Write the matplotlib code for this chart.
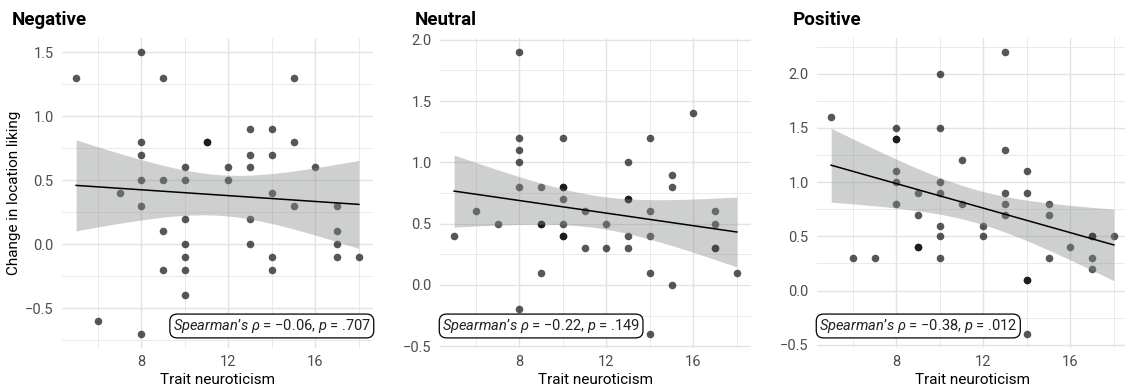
import numpy as np
import matplotlib
matplotlib.use("Agg")
import matplotlib.pyplot as plt
from matplotlib.ticker import FixedLocator, FuncFormatter

# trait neuroticism per participant (same people in each condition)
neuroticism = [5, 6, 7,
               8, 8, 8, 8, 8, 8,
               9, 9, 9, 9,
               10, 10, 10, 10, 10, 10, 10,
               11, 11,
               12, 12,
               13, 13, 13, 13, 13,
               14, 14, 14, 14, 14,
               15, 15, 15,
               16,
               17, 17, 17, 17,
               18]

# change in location liking per condition
liking_negative = [1.3, -0.6, 0.4,
                   1.5, 0.8, 0.7, 0.5, 0.3, -0.7,
                   1.3, 0.5, 0.1, -0.2,
                   0.6, 0.5, 0.2, 0.0, -0.1, -0.2, -0.4,
                   0.8, 0.8,
                   0.6, 0.5,
                   0.9, 0.7, 0.6, 0.2, 0.0,
                   0.9, 0.7, 0.4, -0.1, -0.2,
                   1.3, 0.8, 0.3,
                   0.6,
                   0.3, 0.1, 0.0, -0.1,
                   -0.1]

liking_neutral = [0.4, 0.6, 0.5,
                  1.9, 1.2, 1.1, 1.0, 0.8, -0.2,
                  0.8, 0.5, 0.5, 0.1,
                  1.2, 0.8, 0.8, 0.7, 0.5, 0.4, 0.4,
                  0.6, 0.3,
                  0.5, 0.3,
                  1.0, 0.7, 0.7, 0.4, 0.3,
                  1.2, 0.6, 0.4, 0.1, -0.4,
                  0.9, 0.8, 0.0,
                  1.4,
                  0.6, 0.5, 0.3, 0.3,
                  0.1]

liking_positive = [1.6, 0.3, 0.3,
                   1.5, 1.4, 1.4, 1.1, 1.0, 0.8,
                   0.9, 0.7, 0.4, 0.4,
                   2.0, 1.5, 1.0, 0.9, 0.6, 0.5, 0.3,
                   1.2, 0.8,
                   0.6, 0.5,
                   2.2, 1.3, 0.9, 0.8, 0.7,
                   1.1, 0.9, 0.1, 0.1, -0.4,
                   0.8, 0.7, 0.3,
                   0.4,
                   0.5, 0.5, 0.3, 0.2,
                   0.5]

conditions = ["Negative", "Neutral", "Positive"]
spearman_rho = ["\u22120.06", "\u22120.22", "\u22120.38"]
spearman_p = [".707", ".149", ".012"]
y_ticks = [[-0.5, 0.0, 0.5, 1.0, 1.5],
           [-0.5, 0.0, 0.5, 1.0, 1.5, 2.0],
           [-0.5, 0.0, 0.5, 1.0, 1.5, 2.0]]
x_ticks = [8, 12, 16]

T_CRIT = 2.02  # two-sided 95% t quantile, n - 2 = 41 df

plt.rcParams["font.family"] = ["Roboto", "DejaVu Sans"]
plt.rcParams["mathtext.fontset"] = "custom"
plt.rcParams["mathtext.rm"] = "Roboto"
plt.rcParams["mathtext.it"] = "Roboto:italic"
plt.rcParams["axes.unicode_minus"] = True


def lm_fit(x, y, grid):
    x = np.asarray(x, float)
    y = np.asarray(y, float)
    n = len(x)
    slope, intercept = np.polyfit(x, y, 1)
    resid = y - (intercept + slope * x)
    s = np.sqrt(np.sum(resid ** 2) / (n - 2))
    sxx = np.sum((x - x.mean()) ** 2)
    fit = intercept + slope * grid
    se = s * np.sqrt(1.0 / n + (grid - x.mean()) ** 2 / sxx)
    return fit, fit - T_CRIT * se, fit + T_CRIT * se


def minus_fmt(v, pos):
    return ("%.1f" % v).replace("-", "\u2212")


W, H = 1125, 390
fig = plt.figure(figsize=(W / 100, H / 100), dpi=100)

panel_left = [62, 440, 817]
panel_w = 311
panel_top, panel_bottom = 38, 348
title_x = [12, 415, 793]

series = [liking_negative, liking_neutral, liking_positive]

for i, name in enumerate(conditions):
    ax = fig.add_axes([panel_left[i] / W, (H - panel_bottom) / H,
                       panel_w / W, (panel_bottom - panel_top) / H])
    x = np.asarray(neuroticism, float)
    y = np.asarray(series[i], float)

    ax.scatter(x, y, s=30, color="black", alpha=0.66, linewidths=0, zorder=3)

    grid = np.linspace(x.min(), x.max(), 80)
    fit, lo, hi = lm_fit(x, y, grid)
    ax.fill_between(grid, lo, hi, color="#868a88", alpha=0.4, linewidth=0, zorder=4)
    ax.plot(grid, fit, color="black", lw=1.1, zorder=5)

    # ggplot-style 5% expansion
    xr = x.max() - x.min()
    ax.set_xlim(x.min() - 0.05 * xr, x.max() + 0.05 * xr)
    ymin = min(y.min(), lo.min())
    ymax = max(y.max(), hi.max())
    yr = ymax - ymin
    ax.set_ylim(ymin - 0.05 * yr, ymax + 0.05 * yr)

    ax.xaxis.set_major_locator(FixedLocator(x_ticks))
    ax.xaxis.set_minor_locator(FixedLocator([4, 6, 10, 14, 18]))
    ax.yaxis.set_major_locator(FixedLocator(y_ticks[i]))
    yt = y_ticks[i]
    ax.yaxis.set_minor_locator(FixedLocator(
        [v + 0.25 for v in [yt[0] - 0.5] + yt]))
    ax.yaxis.set_major_formatter(FuncFormatter(minus_fmt))

    ax.grid(which="major", color="#e3e3e3", lw=1.0)
    ax.grid(which="minor", color="#e6e6e6", lw=0.6)
    ax.set_axisbelow(True)
    for sp in ax.spines.values():
        sp.set_visible(False)
    ax.tick_params(which="both", length=0)
    ax.tick_params(axis="x", pad=5, labelsize=10.5, labelcolor="#4d4d4d")
    ax.tick_params(axis="y", pad=6, labelsize=10.5, labelcolor="#4d4d4d")
    ax.set_xlabel("Trait neuroticism", fontsize=11, labelpad=3)
    if i == 0:
        ax.set_ylabel("Change in location liking", fontsize=11, labelpad=3)

    label = ("$\\mathit{Spearman’s}$ $\\mathit{ρ}$ = "
             + spearman_rho[i] + ", $\\mathit{p}$ = " + spearman_p[i])
    if i == 0:
        tx, ha = 0.993, "right"
    else:
        tx, ha = 0.007, "left"
    ax.text(tx, 0.071, label, transform=ax.transAxes, ha=ha, va="center",
            fontsize=10.5, color="#222222", zorder=6,
            bbox=dict(boxstyle="round,pad=0.2,rounding_size=0.5",
                      fc="white", ec="black", lw=0.9))

    fig.text(title_x[i] / W, 1 - 20 / H, name, fontsize=13.5,
             fontweight="bold", ha="left", va="center")

fig.savefig("out.png", dpi=100)
